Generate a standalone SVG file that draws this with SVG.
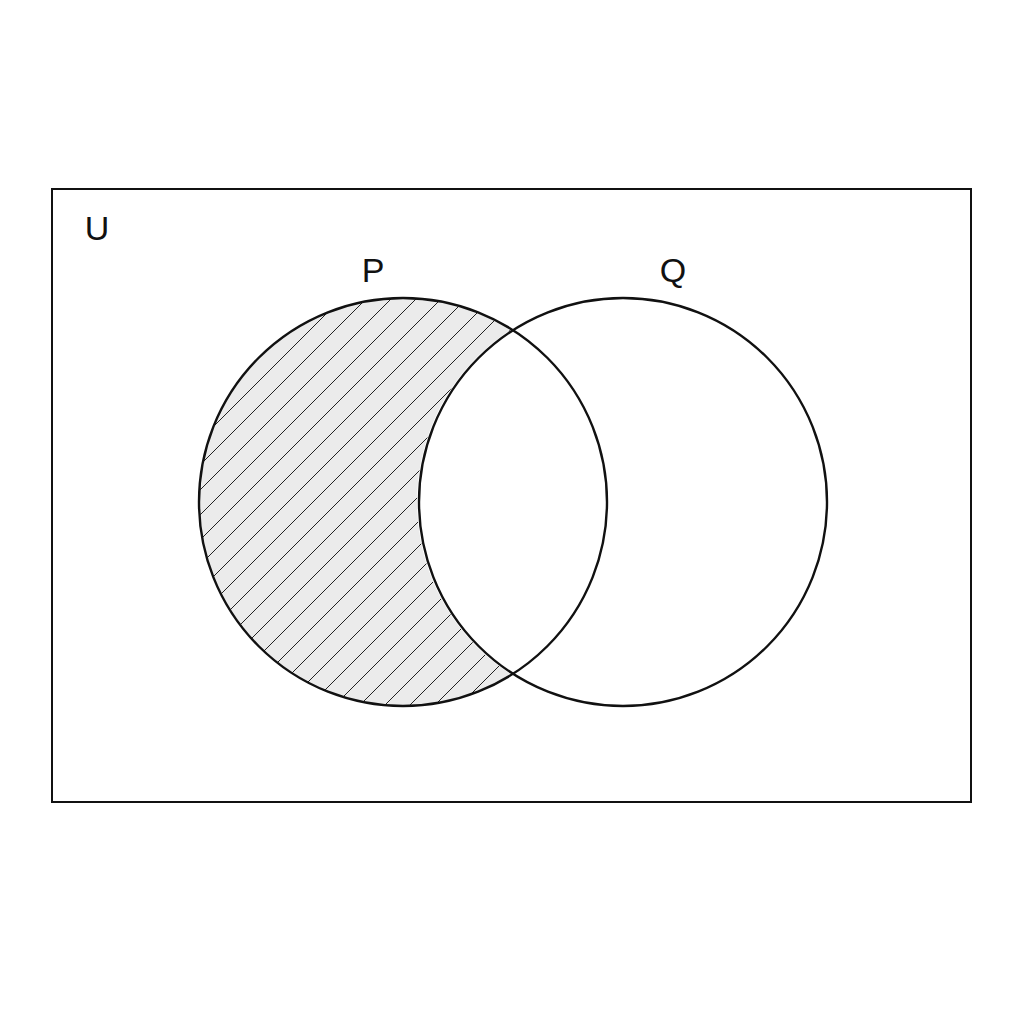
<svg xmlns="http://www.w3.org/2000/svg" width="1024" height="1024" viewBox="0 0 1024 1024">
<style>
.lbl{font-family:"Liberation Sans",Arial,sans-serif;font-size:34px;fill:#111;text-anchor:middle}
.edge{fill:none;stroke:#111;stroke-width:2.4}
.hatch{stroke:#222;stroke-width:1}
</style>
<defs>
<clipPath id="pOnly">
<path d="M 0 0 H 1024 V 1024 H 0 Z M 827 502 A 205 205 0 1 0 417 502 A 205 205 0 1 0 827 502 Z" clip-rule="evenodd"/>
</clipPath>
<clipPath id="pCirc"><circle cx="403" cy="502" r="204"/></clipPath>
</defs>
<rect width="1024" height="1024" fill="#fff"/>
<g id="universe">
<rect x="52" y="189" width="919" height="613" fill="none" stroke="#111" stroke-width="2"/>
<text class="lbl" x="97" y="240">U</text>
</g>
<g id="shade" clip-path="url(#pOnly)">
<g clip-path="url(#pCirc)">
<rect x="190" y="290" width="430" height="430" fill="#ebebeb"/>
<g class="hatch">
<path d="M -300 740 L 280 160 M -275 740 L 305 160 M -250 740 L 330 160 M -225 740 L 355 160 M -200 740 L 380 160 M -175 740 L 405 160 M -150 740 L 430 160 M -125 740 L 455 160 M -100 740 L 480 160 M -75 740 L 505 160 M -50 740 L 530 160 M -25 740 L 555 160 M 0 740 L 580 160 M 25 740 L 605 160 M 50 740 L 630 160 M 75 740 L 655 160 M 100 740 L 680 160 M 125 740 L 705 160 M 150 740 L 730 160 M 175 740 L 755 160 M 200 740 L 780 160 M 225 740 L 805 160 M 250 740 L 830 160 M 275 740 L 855 160 M 300 740 L 880 160 M 325 740 L 905 160 M 350 740 L 930 160 M 375 740 L 955 160 M 400 740 L 980 160 M 425 740 L 1005 160 M 450 740 L 1030 160 M 475 740 L 1055 160 M 500 740 L 1080 160"/>
</g>
</g>
</g>
<g id="setP">
<circle class="edge" cx="403" cy="502" r="204"/>
<text class="lbl" x="373" y="282">P</text>
</g>
<g id="setQ">
<circle class="edge" cx="623" cy="502" r="204"/>
<text class="lbl" x="673" y="282">Q</text>
</g>
</svg>
